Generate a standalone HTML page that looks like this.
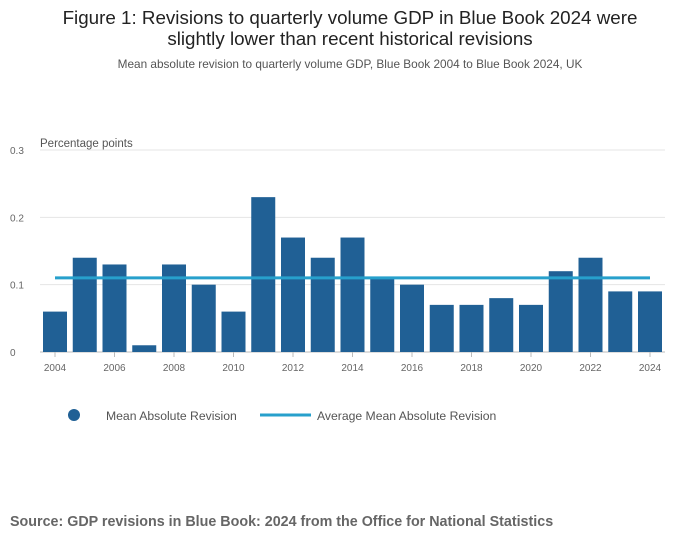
<!DOCTYPE html>
<html><head><meta charset="utf-8"><style>
body{margin:0;background:#fff;font-family:"Liberation Sans",sans-serif;}
svg{display:block}
</style></head><body>
<svg width="700" height="549">
<text x="350" y="24" text-anchor="middle" font-size="18.8" fill="#222">Figure 1: Revisions to quarterly volume GDP in Blue Book 2024 were</text>
<text x="350" y="45" text-anchor="middle" font-size="18.8" fill="#222">slightly lower than recent historical revisions</text>
<text x="350" y="68" text-anchor="middle" font-size="11.8" fill="#555">Mean absolute revision to quarterly volume GDP, Blue Book 2004 to Blue Book 2024, UK</text>
<text x="40" y="147" font-size="11.5" fill="#555">Percentage points</text>
<g id="grid"></g><g id="bars"></g><g id="line"></g><g id="xt"></g>
<g>
<circle cx="74" cy="415" r="6" fill="#206095"/>
<text x="106" y="420" font-size="12.2" fill="#555">Mean Absolute Revision</text>
<line x1="260" y1="415" x2="311" y2="415" stroke="#27a0cc" stroke-width="3"/>
<text x="317" y="420" font-size="12.2" fill="#555">Average Mean Absolute Revision</text>
</g>
<text x="10" y="526" font-size="14.3" font-weight="bold" fill="#666">Source: GDP revisions in Blue Book: 2024 from the Office for National Statistics</text>
</svg>
<script>
const years=[2004,2005,2006,2007,2008,2009,2010,2011,2012,2013,2014,2015,2016,2017,2018,2019,2020,2021,2022,2023,2024];
const values=[0.06,0.14,0.13,0.01,0.13,0.10,0.06,0.23,0.17,0.14,0.17,0.11,0.10,0.07,0.07,0.08,0.07,0.12,0.14,0.09,0.09];
const average=[0.11];
const yTicks=[0,0.1,0.2,0.3];
const xTickLabels=[2004,2006,2008,2010,2012,2014,2016,2018,2020,2022,2024];
const NS="http://www.w3.org/2000/svg";
const y=v=>352-v*673.3;
const x=yr=>55+(yr-2004)*29.75;
function mk(t,a,p){const e=document.createElementNS(NS,t);for(const k in a)e.setAttribute(k,a[k]);p.appendChild(e);return e;}
const g=document.getElementById('grid');
yTicks.forEach(t=>{
 const l=mk('line',{x1:40,x2:665,y1:y(t),y2:y(t),stroke:t===0?'#bbb':'#e4e4e4','stroke-width':1},g);
 
 
 const tx=mk('text',{x:10,y:y(t)+4,'font-size':10,fill:'#666'},g);tx.textContent=t===0?'0':t.toFixed(1);
 
 
});
const b=document.getElementById('bars');
years.forEach((yr,i)=>{
 const r=mk('rect',{x:x(yr)-12,y:y(values[i]),width:24,height:y(0)-y(values[i]),fill:'#206095'},b);
 
 
});
const ln=mk('line',{x1:x(years[0]),x2:x(years[years.length-1]),y1:y(average[0]),y2:y(average[0]),stroke:'#27a0cc','stroke-width':3},document.getElementById('line'));


const xt=document.getElementById('xt');
xTickLabels.forEach(yr=>{
 const l=mk('line',{x1:x(yr),x2:x(yr),y1:352,y2:357,stroke:'#bbb'},xt);
 
 
 const t=mk('text',{x:x(yr),y:371,'text-anchor':'middle','font-size':10,fill:'#666'},xt);t.textContent=yr;
 
 
});
</script>
</body></html>
